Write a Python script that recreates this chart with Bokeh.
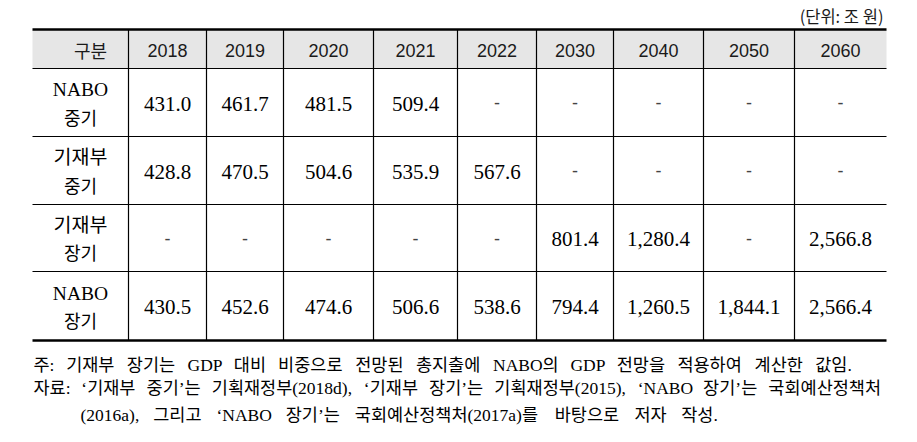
from bokeh.plotting import figure
from bokeh.models import Range1d
from bokeh.core.properties import value
from bokeh.embed import file_html
from bokeh.resources import INLINE

# ---------------- data ----------------
header_label = "구분"
years = ["2018", "2019", "2020", "2021", "2022", "2030", "2040", "2050", "2060"]
row_line1 = ["NABO", "기재부", "기재부", "NABO"]
row_line2 = ["중기", "중기", "장기", "장기"]
nabo_mid = [431.0, 461.7, 481.5, 509.4, None, None, None, None, None]
mof_mid = [428.8, 470.5, 504.6, 535.9, 567.6, None, None, None, None]
mof_long = [None, None, None, None, None, 801.4, 1280.4, None, 2566.8]
nabo_long = [430.5, 452.6, 474.6, 506.6, 538.6, 794.4, 1260.5, 1844.1, 2566.4]
unit_text = "(단위: 조 원)"
notes = [
    "주: 기재부 장기는 GDP 대비 비중으로 전망된 총지출에 NABO의 GDP 전망을 적용하여 계산한 값임.",
    "자료: ‘기재부 중기’는 기획재정부(2018d), ‘기재부 장기’는 기획재정부(2015), ‘NABO 장기’는 국회예산정책처",
    "(2016a), 그리고 ‘NABO 장기’는 국회예산정책처(2017a)를 바탕으로 저자 작성.",
]
rows = [nabo_mid, mof_mid, mof_long, nabo_long]

# ---------------- layout (screen px) ----------------
col_edges = [32, 128, 206, 283, 373, 457, 536, 613, 703, 794, 886]
row_edges = [29, 68, 136, 204, 271, 340]
note_x0 = [33, 33, 80]
note_x1 = [852, 883, 718]
note_y = [364, 387, 414]
NOTE_FS = 17.5

SANS = value("'Liberation Sans', 'Noto Sans CJK KR'")
SERIF = value("'Liberation Serif', 'Noto Sans CJK KR'")
KR = value("Noto Sans CJK KR")

W, H = 901, 426
p = figure(width=W, height=H, output_backend="svg", toolbar_location=None,
           x_range=Range1d(0, W), y_range=Range1d(H, 0),
           x_axis_type=None, y_axis_type=None, min_border=0,
           outline_line_color=None, background_fill_color="white")
p.xgrid.visible = False
p.ygrid.visible = False

# header band
p.quad(left=[col_edges[0]], right=[col_edges[-1]], top=[row_edges[0]], bottom=[row_edges[1]],
       fill_color="#e6e6e6", line_color=None)

# horizontal rules
thin_y = row_edges[1:-1]
p.segment(x0=[col_edges[0]] * len(thin_y), x1=[col_edges[-1]] * len(thin_y),
          y0=thin_y, y1=thin_y, line_color="black", line_width=1.2)
p.segment(x0=[col_edges[0]] * 2, x1=[col_edges[-1]] * 2,
          y0=[row_edges[0], row_edges[-1]], y1=[row_edges[0], row_edges[-1]],
          line_color="black", line_width=2.4)
# vertical rules
vx = col_edges[1:-1]
p.segment(x0=vx, x1=vx, y0=[row_edges[0]] * len(vx), y1=[row_edges[-1]] * len(vx),
          line_color="black", line_width=1.2)

centers_x = [(col_edges[i] + col_edges[i + 1]) / 2 for i in range(len(col_edges) - 1)]
centers_y = [(row_edges[i] + row_edges[i + 1]) / 2 for i in range(len(row_edges) - 1)]

# header
p.text(x=[90], y=[centers_y[0] + 1], text=[header_label], text_font=KR, text_font_size="18px",
       text_align="center", text_baseline="middle", text_color="#1a1a1a")
p.text(x=centers_x[1:], y=[centers_y[0] + 1] * len(years), text=years, text_font=SANS,
       text_font_size="18px", text_align="center", text_baseline="middle", text_color="#1a1a1a")

# row labels
ly = centers_y[1:]
p.text(x=[centers_x[0]] * 4, y=[y - 13 for y in ly], text=row_line1, text_font=SERIF,
       text_font_size="19.5px", text_align="center", text_baseline="middle", text_color="black")
p.text(x=[centers_x[0]] * 4, y=[y + 14 for y in ly], text=row_line2, text_font=KR,
       text_font_size="18px", text_align="center", text_baseline="middle", text_color="black")

# values
vx_, vy_, vt = [], [], []
dx_, dy_ = [], []
for r, vals in enumerate(rows):
    for c, v in enumerate(vals):
        if v is None:
            dx_.append(centers_x[c + 1]); dy_.append(ly[r])
        else:
            vx_.append(centers_x[c + 1]); vy_.append(ly[r] + 1); vt.append(f"{v:,.1f}")
p.text(x=vx_, y=vy_, text=vt, text_font=value("Liberation Serif"), text_font_size="21px",
       text_align="center", text_baseline="middle", text_color="black")
p.text(x=dx_, y=dy_, text=["-"] * len(dx_), text_font=value("Liberation Sans"), text_font_size="18px",
       text_align="center", text_baseline="middle", text_color="#444444")

# unit
p.text(x=[883], y=[15], text=[unit_text], text_font=KR, text_font_size="16.5px",
       text_align="right", text_baseline="middle", text_color="#1a1a1a")

# notes: justified word layout (estimated glyph widths, em units)
LAT = {"0": .5, "1": .5, "2": .5, "5": .5, "6": .5, "7": .5, "8": .5, "G": .722, "D": .722,
       "P": .556, "N": .722, "A": .722, "B": .667, "O": .722, "(": .333, ")": .333,
       ",": .25, ".": .25, ":": .278, "a": .444, "d": .5, "‘": .333, "’": .333}


def est_width(s):
    return sum(LAT.get(ch, 0.94 if ord(ch) > 0x1000 else 0.5) for ch in s) * NOTE_FS


wx, wy, wt = [], [], []
for line, x0, x1, y in zip(notes, note_x0, note_x1, note_y):
    words = line.split(" ")
    widths = [est_width(w) for w in words]
    gap = (x1 - x0 - sum(widths)) / (len(words) - 1)
    x = x0
    for w, ww in zip(words, widths):
        wx.append(x); wy.append(y); wt.append(w)
        x += ww + gap
p.text(x=wx, y=wy, text=wt, text_font=SERIF, text_font_size=f"{NOTE_FS}px",
       text_align="left", text_baseline="middle", text_color="black")

open("out.html", "w").write(file_html(p, INLINE))
